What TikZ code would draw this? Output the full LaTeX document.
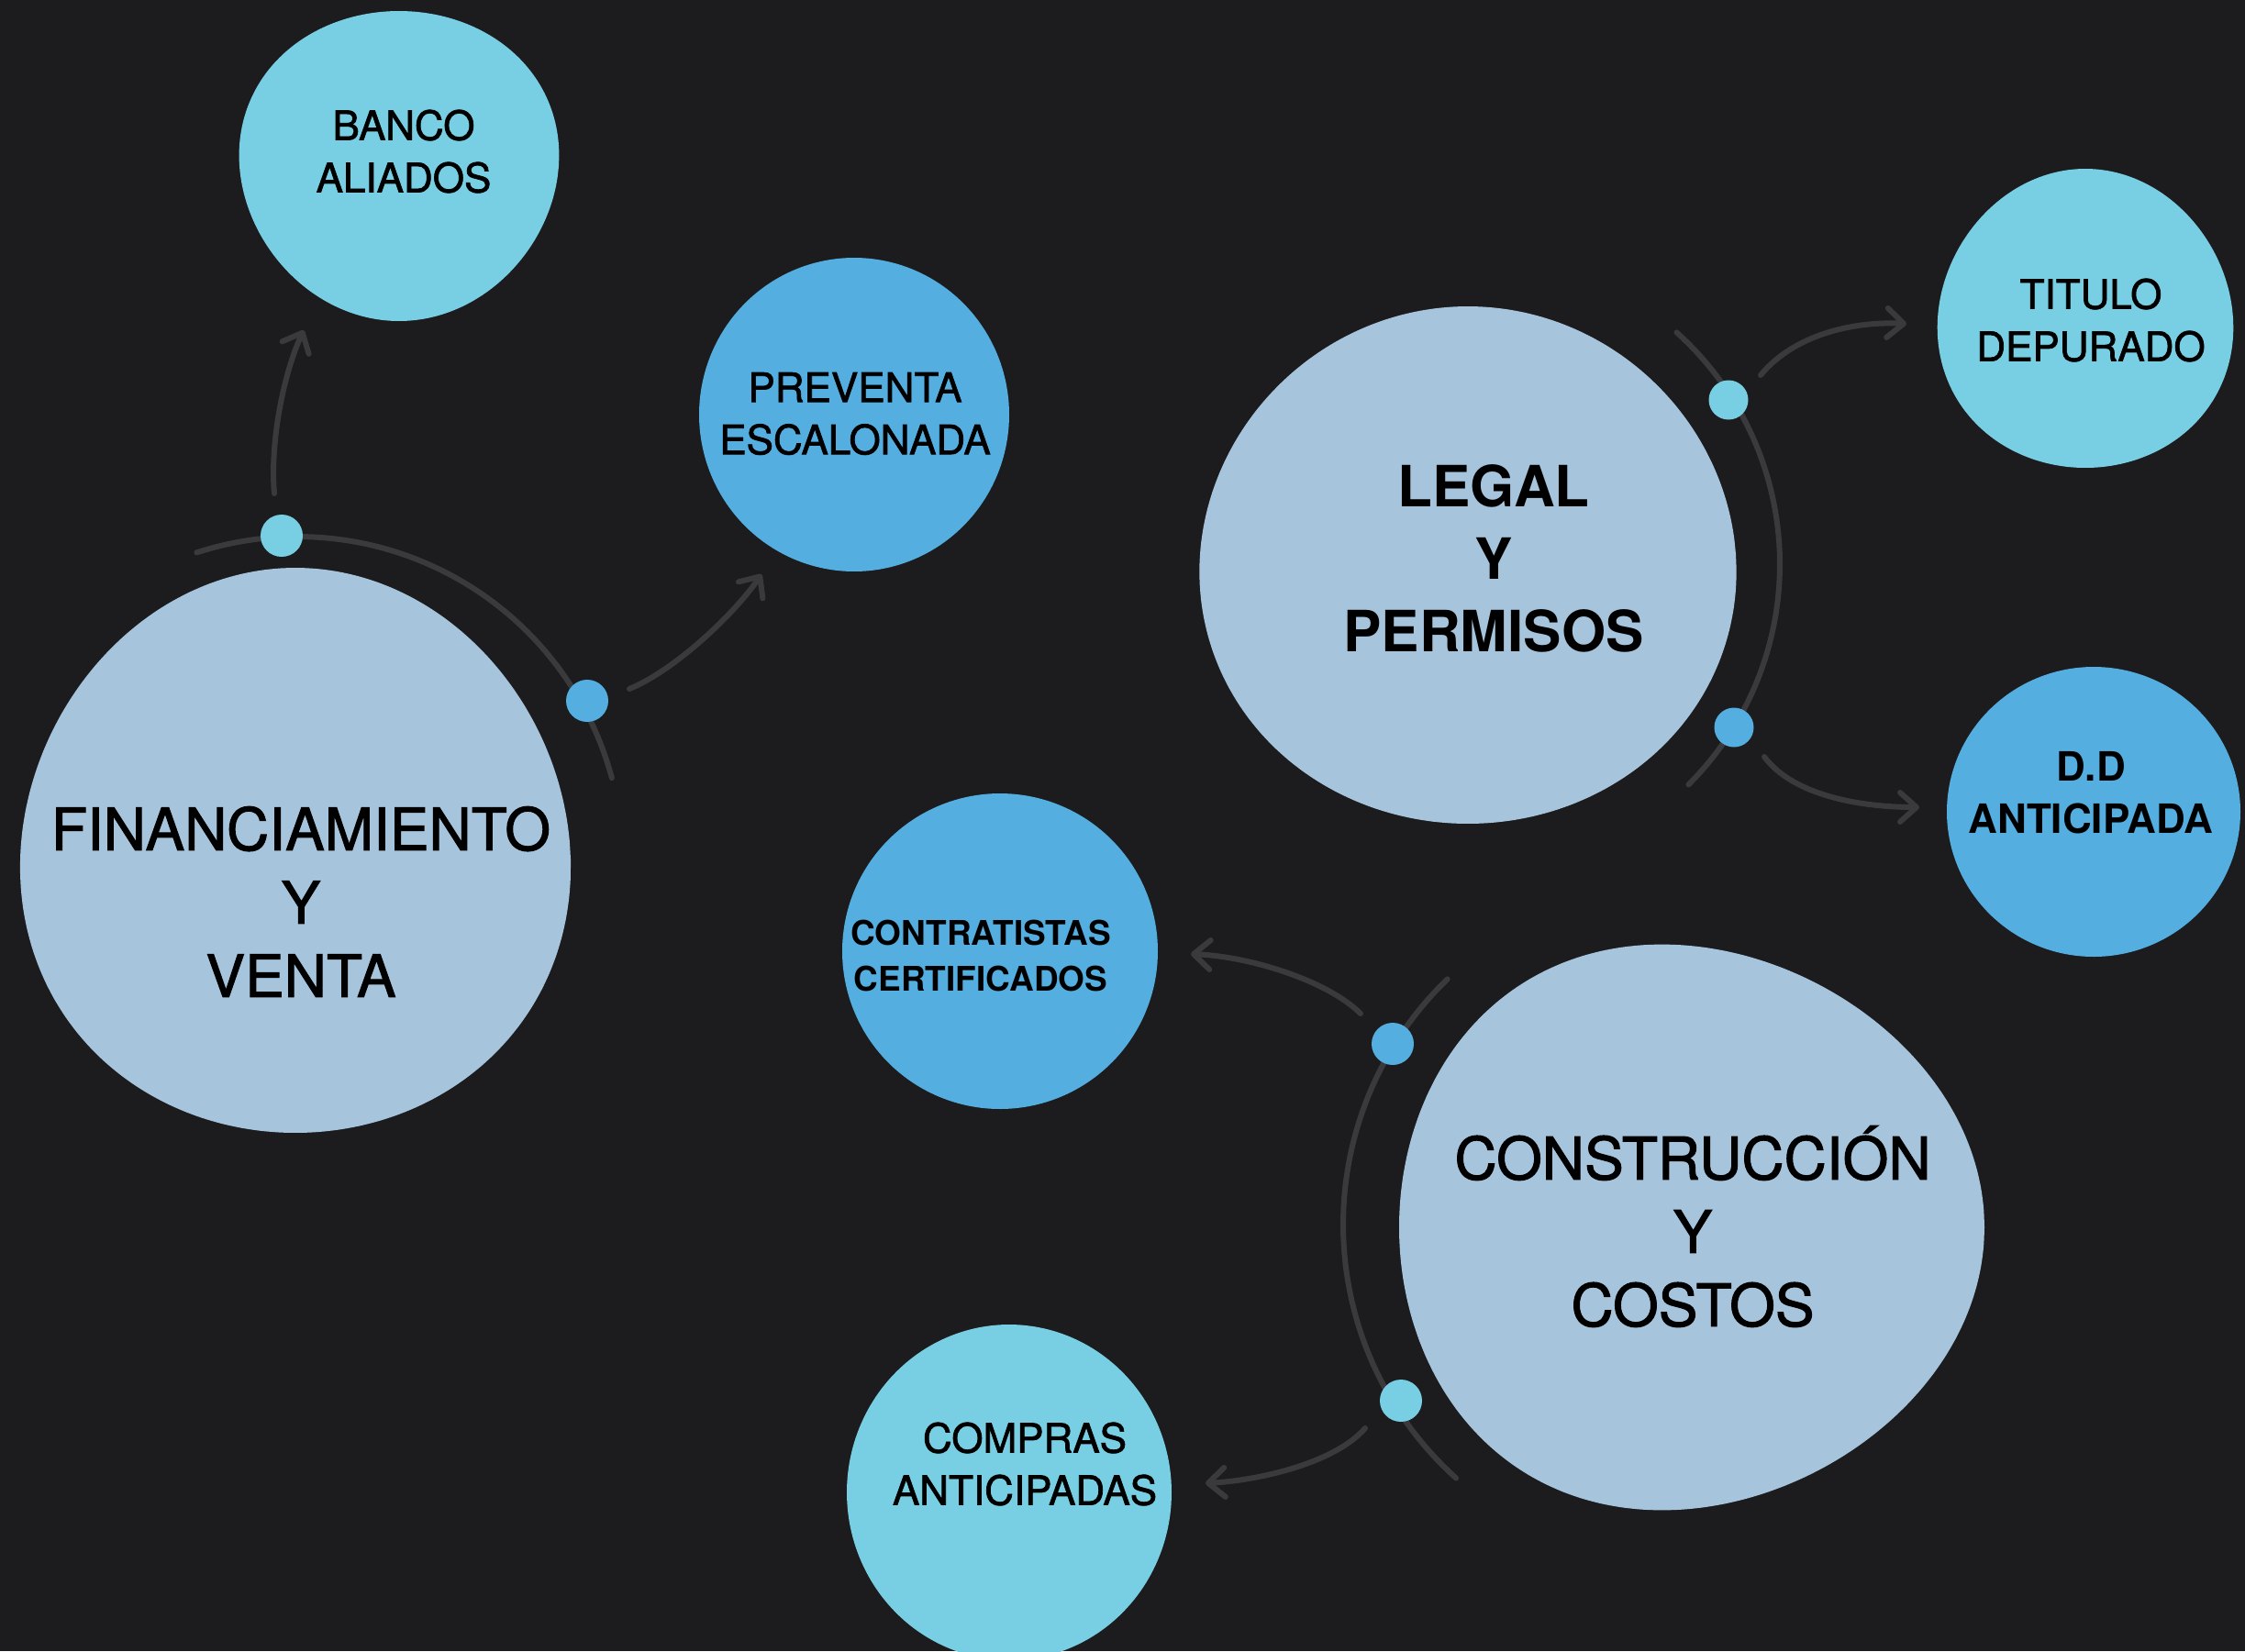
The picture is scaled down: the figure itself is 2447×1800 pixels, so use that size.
\documentclass[tikz,border=0pt]{standalone}
\usepackage{fontspec}
\setmainfont{TeX Gyre Heros}
\newfontfamily\medfont{TeX Gyre Heros}[FakeBold=1.6]
\usetikzlibrary{arrows.meta}
\definecolor{bg}{RGB}{28,28,30}
\definecolor{bigc}{RGB}{166,196,220}
\definecolor{cyanc}{RGB}{120,206,226}
\definecolor{bluec}{RGB}{84,174,224}
\definecolor{arcc}{RGB}{58,58,60}
\begin{document}
\begin{tikzpicture}[x=1pt,y=-1pt,
  arcline/.style={draw=arcc, line width=6pt, line cap=round},
  arr/.style={draw=arcc, line width=6pt, line cap=round, -{Straight Barb[length=18pt,width=32pt,round]}},
  dotn/.style={circle, minimum size=46pt, inner sep=0pt},
  lbl/.style={align=center, text=black, inner sep=0pt},
  bigtxt/.style={lbl, font=\medfont\fontsize{64}{80}\selectfont},
  legtxt/.style={lbl, font=\bfseries\fontsize{62}{79}\selectfont},
  smalltxt/.style={lbl, font=\medfont\fontsize{44}{57}\selectfont},
  smallbold/.style={lbl, font=\bfseries\fontsize{44}{57}\selectfont},
  tinybold/.style={lbl, font=\bfseries\fontsize{37}{50}\selectfont}
]
\useasboundingbox (0,0) rectangle (2447,1800);
\fill[bg] (0,0) rectangle (2447,1800);

% blobs (soft, hand-drawn ovals)
\fill[bigc] plot[domain=0:360, samples=90, smooth cycle] ({322+300*cos(\x)+4*sin(2*\x)}, {932+308*sin(\x)+5*cos(2*\x)});
\fill[bigc] plot[domain=0:360, samples=90, smooth cycle] ({1600+292*cos(\x)+10*sin(2*\x)}, {610+282*sin(\x)-6*cos(2*\x)});
\fill[bigc] plot[domain=0:360, samples=90, smooth cycle] ({1836+319*cos(\x)+8*cos(2*\x)}, {1338+308*sin(\x)-8*sin(2*\x)});
\fill[cyanc] plot[domain=0:360, samples=90, smooth cycle] ({435+174*cos(\x)-6*sin(2*\x)}, {181+169*sin(\x)});
\fill[bluec] plot[domain=0:360, samples=90, smooth cycle] ({931+169*cos(\x)}, {452+171*sin(\x)});
\fill[cyanc] plot[domain=0:360, samples=90, smooth cycle] ({2273+161*cos(\x)+5*sin(2*\x)}, {347+163*sin(\x)});
\fill[bluec] plot[domain=0:360, samples=90, smooth cycle] ({2282+160*cos(\x)}, {885+158*sin(\x)});
\fill[bluec] plot[domain=0:360, samples=90, smooth cycle] ({1090+172*cos(\x)}, {1037+172*sin(\x)});
\fill[cyanc] plot[domain=0:360, samples=90, smooth cycle] ({1100+177*cos(\x)}, {1627+183*sin(\x)});

% labels
\node[bigtxt] (fin) at (328,983) {FINANCIAMIENTO\\Y\\VENTA};
\node[legtxt] (legal) at (1628,609) {LEGAL\\Y\\PERMISOS};
\node[bigtxt] (constr) at (1845,1337) {CONSTRUCCIÓN\\Y\\COSTOS};
\node[smalltxt] (banco) at (440,165) {BANCO\\ALIADOS};
\node[smalltxt] (preventa) at (932,451) {PREVENTA\\ESCALONADA};
\node[smalltxt] (titulo) at (2279,349) {TITULO\\DEPURADO};
\node[smallbold] (dd) at (2279,864) {D.D\\ANTICIPADA};
\node[tinybold] (contr) at (1069,1042) {CONTRATISTAS\\CERTIFICADOS};
\node[smalltxt] (compras) at (1117,1596) {COMPRAS\\ANTICIPADAS};

% arcs
\draw[arcline] plot[domain=-108:-15, samples=60] ({324+355*cos(\x)},{940+355*sin(\x)});
\draw[arcline] plot[domain=-48:45, samples=60] ({1600+340*cos(\x)},{615+340*sin(\x)});
\draw[arcline] plot[domain=132:226, samples=60] ({1836+372*cos(\x)},{1335+372*sin(\x)});

% dots
\node[dotn, fill=cyanc] (d1) at (307,584) {};
\node[dotn, fill=bluec] (d2) at (640,764) {};
\node[dotn, fill=cyanc, minimum size=43pt] (d3) at (1884,436) {};
\node[dotn, fill=bluec, minimum size=43pt] (d4) at (1890,793) {};
\node[dotn, fill=bluec] (d5) at (1518,1138) {};
\node[dotn, fill=cyanc] (d6) at (1527,1527) {};

% arrow ends
\coordinate (a1s) at (299,538);  \coordinate (a1e) at (331,360);
\coordinate (a2s) at (686,751);  \coordinate (a2e) at (830,626);
\coordinate (a3s) at (1919,409); \coordinate (a3e) at (2078,353);
\coordinate (a4s) at (1923,825); \coordinate (a4e) at (2092,880);
\coordinate (a5s) at (1483,1105); \coordinate (a5e) at (1298,1040);
\coordinate (a6s) at (1488,1557); \coordinate (a6e) at (1314,1617);

\draw[arr] (a1s) .. controls (294,480) and (310,405) .. (a1e);
\draw[arr] (a2s) .. controls (735,731) and (800,670) .. (a2e);
\draw[arr] (a3s) .. controls (1955,365) and (2020,350) .. (a3e);
\draw[arr] (a4s) .. controls (1955,868) and (2030,880) .. (a4e);
\draw[arr] (a5s) .. controls (1448,1070) and (1365,1043) .. (a5e);
\draw[arr] (a6s) .. controls (1455,1595) and (1372,1614) .. (a6e);
\end{tikzpicture}
\end{document}
